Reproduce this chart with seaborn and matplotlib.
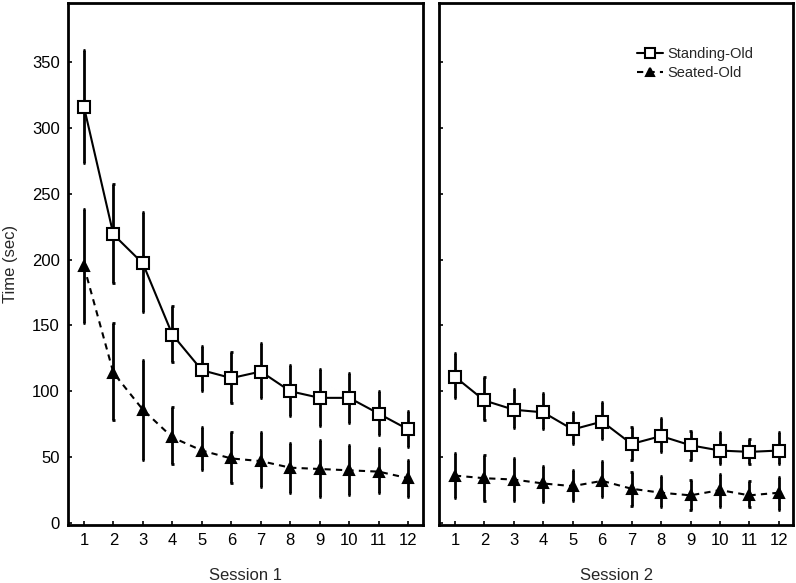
import pandas as pd
import matplotlib
matplotlib.use('Agg')
import matplotlib.pyplot as plt
import seaborn as sns

# Trial numbers and group means / error bar ends
trials = list(range(1, 13))

s1_stand = [316, 219, 197, 143, 116, 110, 115, 100, 95, 95, 83, 71]
s1_stand_lo = [273, 182, 160, 122, 100, 91, 95, 81, 74, 76, 67, 58]
s1_stand_hi = [359, 257, 236, 165, 134, 130, 137, 120, 117, 114, 100, 85]
s1_seat = [195, 114, 86, 65, 55, 49, 47, 42, 41, 40, 39, 34]
s1_seat_lo = [152, 78, 48, 45, 40, 30, 27, 23, 20, 21, 23, 20]
s1_seat_hi = [238, 152, 124, 88, 73, 69, 69, 61, 63, 59, 57, 48]

s2_stand = [111, 93, 86, 84, 71, 77, 60, 66, 59, 55, 54, 55]
s2_stand_lo = [95, 78, 72, 71, 60, 64, 48, 54, 48, 45, 45, 45]
s2_stand_hi = [129, 111, 102, 99, 84, 92, 73, 80, 70, 69, 64, 69]
s2_seat = [36, 34, 33, 30, 28, 32, 26, 23, 21, 25, 21, 23]
s2_seat_lo = [19, 17, 17, 16, 17, 20, 13, 12, 10, 12, 12, 10]
s2_seat_hi = [53, 52, 49, 43, 40, 47, 39, 36, 33, 37, 32, 35]

y_ticks = [0, 50, 100, 150, 200, 250, 300, 350]

sns.set_theme(style='white')
plt.rcParams['font.family'] = ['Liberation Sans', 'DejaVu Sans']

fig = plt.figure(figsize=(7.96, 5.83), dpi=100)
ax1 = fig.add_axes([0.0858, 0.0995, 0.4452, 0.896])
ax2 = fig.add_axes([0.5519, 0.0995, 0.4447, 0.896])


def draw_group(ax, mean, lo, hi, label, marker, face, dashed):
    df = pd.DataFrame({'Trial': trials, 'Time': mean})
    ax.vlines(trials, lo, hi, color='black', lw=2, zorder=2)
    ax.hlines(lo, [t - 0.04 for t in trials], [t + 0.04 for t in trials], color='black', lw=2, zorder=2)
    ax.hlines(hi, [t - 0.04 for t in trials], [t + 0.04 for t in trials], color='black', lw=2, zorder=2)
    sns.lineplot(data=df, x='Trial', y='Time', ax=ax, color='black', lw=1.5,
                 marker=marker, markersize=9 if marker == 's' else 7.5,
                 markerfacecolor=face, markeredgecolor='black', markeredgewidth=1.5,
                 label=label, zorder=3)
    if dashed:
        ax.lines[-1].set_dashes((3, 2.5))


def style_axis(ax, show_labels):
    ax.set_xlim(0.47, 12.49)
    ax.set_ylim(-1.5, 395)
    ax.set_xticks(trials)
    ax.set_yticks(y_ticks)
    ax.tick_params(direction='in', length=3, width=1.2, colors='black', labelsize=12,
                   pad=6, left=True, bottom=True)
    if not show_labels:
        ax.set_yticklabels([])
    for sp in ax.spines.values():
        sp.set_visible(True)
        sp.set_color('black')
        sp.set_linewidth(2)
    ax.set_ylabel('')
    ax.grid(False)


draw_group(ax1, s1_stand, s1_stand_lo, s1_stand_hi, 'Standing-Old', 's', 'white', False)
draw_group(ax1, s1_seat, s1_seat_lo, s1_seat_hi, 'Seated-Old', '^', 'black', True)
draw_group(ax2, s2_stand, s2_stand_lo, s2_stand_hi, 'Standing-Old', 's', 'white', False)
draw_group(ax2, s2_seat, s2_seat_lo, s2_seat_hi, 'Seated-Old', '^', 'black', True)

style_axis(ax1, True)
style_axis(ax2, False)

ax1.get_legend().remove()
ax1.set_xlabel('Session 1', fontsize=12)
ax2.set_xlabel('Session 2', fontsize=12)
ax1.xaxis.set_label_coords(0.5, -0.083)
ax2.xaxis.set_label_coords(0.5, -0.083)
ax1.set_ylabel('Time (sec)', fontsize=12)
ax1.yaxis.set_label_coords(-0.142, 0.5)

leg = ax2.legend(loc='upper right', bbox_to_anchor=(0.925, 0.94), frameon=False, fontsize=10.5,
                 handlelength=1.8, handletextpad=0.3, labelspacing=0.35, markerscale=0.85)

fig.savefig('out.png', dpi=100)
